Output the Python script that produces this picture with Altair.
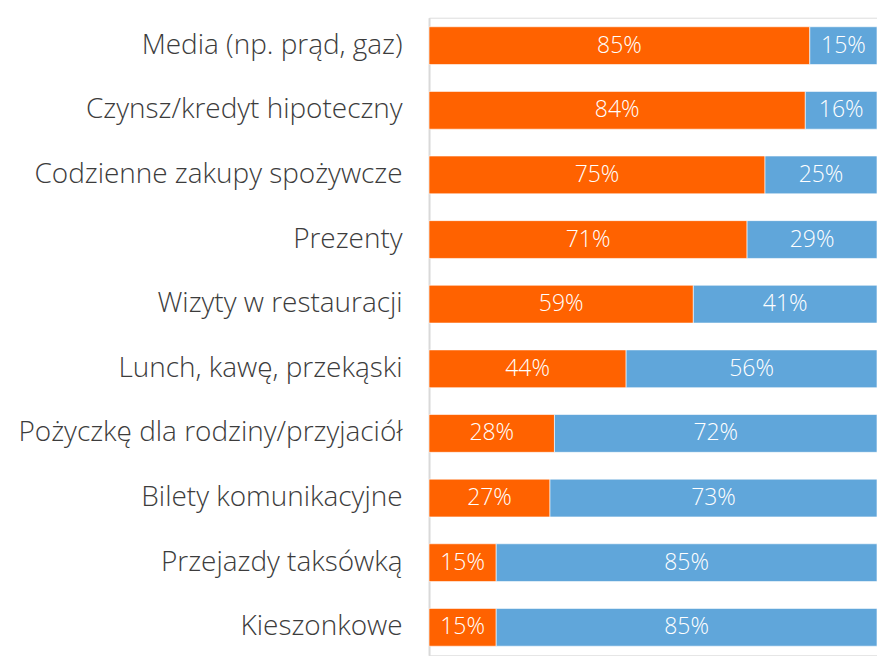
import altair as alt
import pandas as pd

categories = [
    "Media (np. prąd, gaz)",
    "Czynsz/kredyt hipoteczny",
    "Codzienne zakupy spożywcze",
    "Prezenty",
    "Wizyty w restauracji",
    "Lunch, kawę, przekąski",
    "Pożyczkę dla rodziny/przyjaciół",
    "Bilety komunikacyjne",
    "Przejazdy taksówką",
    "Kieszonkowe",
]
orange_values = [85, 84, 75, 71, 59, 44, 28, 27, 15, 15]
blue_values = [15, 16, 25, 29, 41, 56, 72, 73, 85, 85]
series_names = ["A", "B"]
colors = ["#FF6200", "#60A6DA"]

rows = []
for c, o, b in zip(categories, orange_values, blue_values):
    rows.append({"cat": c, "series": series_names[0], "order": 0, "value": o})
    rows.append({"cat": c, "series": series_names[1], "order": 1, "value": b})
df = pd.DataFrame(rows)

FONT = "Open Sans"

base = alt.Chart(df).transform_stack(
    stack="value", groupby=["cat"], as_=["x0", "x1"], sort=[alt.SortField("order", "ascending")]
).transform_calculate(
    mid="(datum.x0 + datum.x1) / 2",
    label="datum.value + '%'",
)

y_enc = alt.Y(
    "cat:N",
    sort=categories,
    title=None,
    scale=alt.Scale(paddingInner=0.415, paddingOuter=0.14),
    axis=alt.Axis(
        domain=True,
        domainColor="#d9d9d9",
        domainWidth=2,
        ticks=False,
        labelPadding=27,
        labelFontSize=28,
        labelFont=FONT,
        labelFontWeight=300,
        labelColor="#3c3c3c",
        labelLimit=500,
    ),
)
x_scale = alt.Scale(domain=[0, 100], nice=False)

bars = base.mark_bar(stroke="white", strokeWidth=0.6).encode(
    y=y_enc,
    x=alt.X("x0:Q", scale=x_scale, axis=None),
    x2="x1:Q",
    color=alt.Color("series:N", scale=alt.Scale(domain=series_names, range=colors), legend=None),
)

texts = base.mark_text(color="white", fontSize=23, font=FONT, fontWeight=300, baseline="middle").encode(
    y=alt.Y("cat:N", sort=categories),
    x=alt.X("mid:Q", scale=x_scale),
    text="label:N",
)

chart = (
    alt.layer(bars, texts)
    .properties(
        width=449,
        height=639,
        autosize=alt.AutoSizeParams(type="none"),
        padding={"left": 430, "top": 17, "right": 0, "bottom": 0},
    )
    .configure_view(stroke=None)
    .configure(background="white")
)

chart.save("out.html", embed_options={"renderer": "svg", "actions": False})
